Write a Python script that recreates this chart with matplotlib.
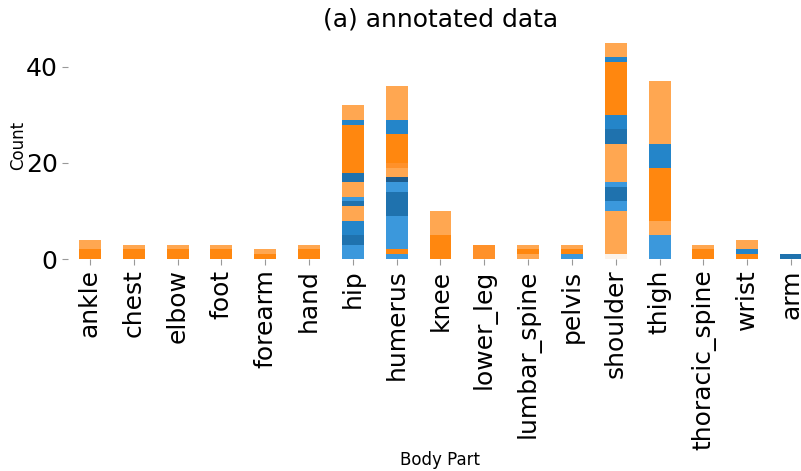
import matplotlib
matplotlib.use('Agg')
import matplotlib.pyplot as plt

body_parts = ["ankle", "chest", "elbow", "foot", "forearm", "hand", "hip",
              "humerus", "knee", "lower_leg", "lumbar_spine", "pelvis",
              "shoulder", "thigh", "thoracic_spine", "wrist", "arm"]

# stacked segments per body part, bottom to top
seg_counts = [
    [2, 2],
    [2, 1],
    [2, 1],
    [2, 1],
    [1, 1],
    [2, 1],
    [3, 2, 3, 3, 1, 1, 3, 2, 10, 1, 3],
    [1, 1, 7, 5, 2, 1, 2, 1, 6, 3, 7],
    [5, 5],
    [3],
    [1, 1, 1],
    [1, 1, 1],
    [1, 9, 2, 3, 1, 8, 3, 3, 11, 1, 3],
    [5, 3, 11, 5, 13],
    [2, 1],
    [1, 1, 2],
    [1],
]
seg_shades = [
    ["O", "o"],
    ["O", "o"],
    ["O", "o"],
    ["O", "o"],
    ["O", "o"],
    ["O", "o"],
    ["b", "B", "M", "o", "B", "b", "o", "B", "O", "M", "o"],
    ["b", "O", "b", "B", "b", "N", "o", "m", "O", "M", "o"],
    ["O", "o"],
    ["m"],
    ["o", "O", "o"],
    ["b", "O", "o"],
    ["p", "o", "b", "B", "b", "o", "B", "M", "O", "M", "o"],
    ["b", "o", "O", "M", "o"],
    ["O", "o"],
    ["O", "M", "o"],
    ["B"],
]

palette = {
    "O": "#ff870f",
    "m": "#ff912a",
    "o": "#ffa751",
    "B": "#1f72ae",
    "M": "#2485c9",
    "b": "#3b98dc",
    "N": "#1d5c8e",
    "p": "#fcf3ea",
}

fig = plt.figure(figsize=(8.01, 4.71), dpi=100)
ax = fig.add_axes([0.0849, 0.450, 0.930, 0.482])

for i, (counts, shades) in enumerate(zip(seg_counts, seg_shades)):
    bottom = 0
    for c, s in zip(counts, shades):
        ax.bar(i, c, bottom=bottom, width=0.5, color=palette[s], linewidth=0)
        bottom += c

ax.set_xlim(-0.5, len(body_parts) - 0.5)
ax.set_ylim(0, 47.25)
ax.set_xticks(range(len(body_parts)))
ax.set_xticklabels(body_parts, rotation=90, fontsize=18)
ax.set_yticks([0, 20, 40])
ax.tick_params(axis="y", labelsize=18)
ax.tick_params(colors="#999999", labelcolor="black", length=4, width=0.8)
for sp in ax.spines.values():
    sp.set_visible(False)

ax.set_title("(a) annotated data", fontsize=18, pad=4)
ax.set_xlabel("Body Part", fontsize=12)
ax.set_ylabel("Count", fontsize=12)
ax.xaxis.set_label_coords(0.5, -0.846)
ax.yaxis.set_label_coords(-0.055, 0.5)

plt.savefig("out.png", dpi=100)
plt.close()
